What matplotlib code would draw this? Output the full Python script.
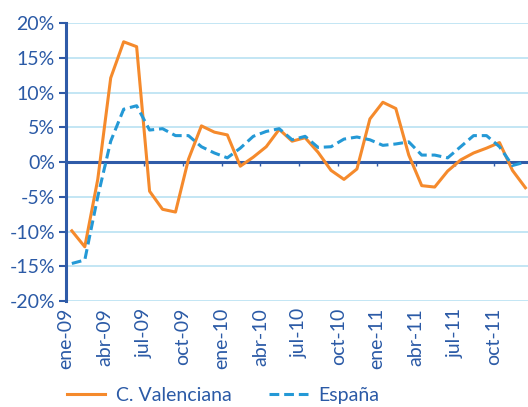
import matplotlib
matplotlib.use("Agg")
import matplotlib.pyplot as plt
from matplotlib.ticker import FuncFormatter

plt.rcParams['font.family'] = ['Lato', 'DejaVu Sans']

months = ["ene", "feb", "mar", "abr", "may", "jun",
          "jul", "ago", "sep", "oct", "nov", "dic"]
years = ["09", "10", "11"]
labels = [m + "-" + y for y in years for m in months]

valenciana = [-9.9, -12.2, -2.5, 12.1, 17.3, 16.6, -4.2, -6.8, -7.2, 0.4, 5.2, 4.3,
              3.9, -0.6, 0.7, 2.2, 4.7, 3.0, 3.5, 1.4, -1.2, -2.5, -1.0, 6.2,
              8.6, 7.7, 1.0, -3.4, -3.6, -1.3, 0.3, 1.3, 2.0, 2.8, -1.2, -3.7]
espana = [-14.6, -14.1, -5.0, 3.0, 7.6, 8.1, 4.6, 4.8, 3.8, 3.8, 2.2, 1.3,
          0.6, 2.0, 3.7, 4.4, 4.8, 3.2, 3.7, 2.1, 2.2, 3.3, 3.6, 3.2,
          2.4, 2.6, 2.9, 1.0, 1.0, 0.6, 2.2, 3.8, 3.8, 2.2, -0.5, 0.0]

text_col = "#2b5aa6"
axis_col = "#2f5ba8"
grid_col = "#b9e1f2"
orange = "#f58a2c"
blue = "#2499d6"

fig = plt.figure(figsize=(5.28, 4.07), dpi=100)
ax = fig.add_axes([0.125, 0.2604, 0.875, 0.683])

x = [i + 0.45 for i in range(len(labels))]
ax.plot(x, valenciana, color=orange, lw=2.2, label="C. Valenciana", zorder=3)
ax.plot(x, espana, color=blue, lw=2.2, ls=(0, (3.2, 1.6)), label="España", zorder=3)

ax.set_ylim(-20, 20)
ax.set_yticks(range(-20, 21, 5))
ax.yaxis.set_major_formatter(FuncFormatter(lambda v, p: "%d%%" % v))
ax.set_xlim(0, 35.65)
tick_pos = list(range(0, 36, 3))
ax.set_xticks(tick_pos)
ax.set_xticklabels([labels[i] for i in tick_pos], rotation=90)

ax.grid(axis='y', color=grid_col, lw=1.2, zorder=0)
ax.axhline(0, color=axis_col, lw=2.2, zorder=2)
ax.vlines(tick_pos[1:], -0.6, 0, color=axis_col, lw=1, zorder=2)

for s in ["top", "right", "bottom"]:
    ax.spines[s].set_visible(False)
ax.spines["left"].set_color(axis_col)
ax.spines["left"].set_linewidth(2.2)
ax.tick_params(axis='y', colors=axis_col, labelcolor=text_col, labelsize=14,
               length=5, width=1.5, pad=3)
ax.tick_params(axis='x', length=0, labelcolor=text_col, labelsize=14, pad=5)

leg = fig.legend(loc="lower left", bbox_to_anchor=(0.093, -0.035), ncol=2,
                 frameon=False, fontsize=14, handlelength=2.0,
                 columnspacing=1.9, handletextpad=0.55)
for t in leg.get_texts():
    t.set_color(text_col)

fig.savefig("out.png", dpi=100)
